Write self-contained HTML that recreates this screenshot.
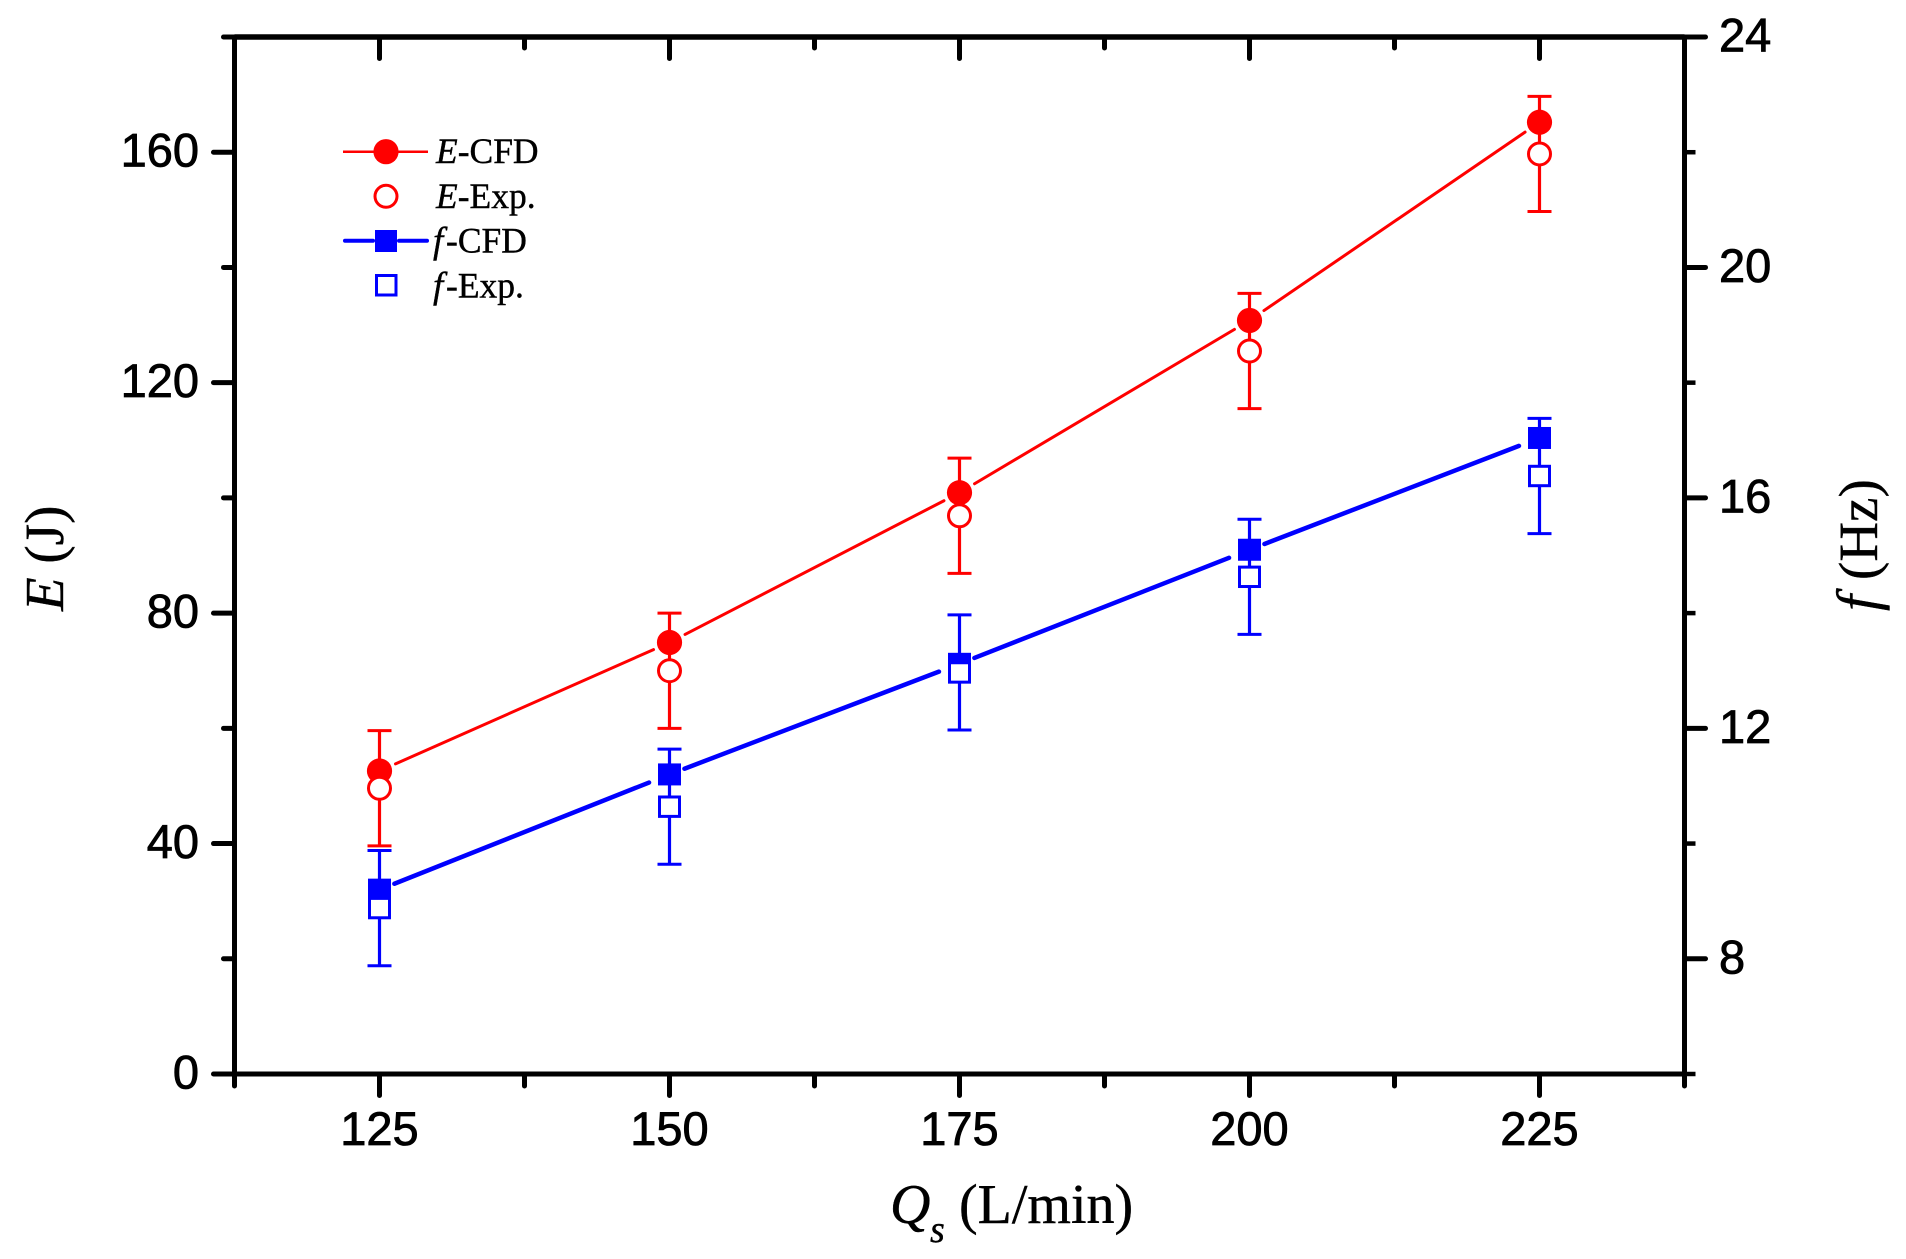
<!DOCTYPE html>
<html lang="en">
<head>
<meta charset="utf-8">
<title>E and f versus Qs</title>
<style>
html,body{margin:0;padding:0;background:#fff;width:1906px;height:1259px;overflow:hidden}
svg{display:block}
.serif{font-family:"Liberation Serif",serif;fill:#000;stroke:#000;stroke-width:.4px}
.tick{font-family:"Liberation Sans",sans-serif;font-size:47px;fill:#000;stroke:#000;stroke-width:.8px}
</style>
</head>
<body>
<svg id="chart" xmlns="http://www.w3.org/2000/svg" width="1906" height="1259" viewBox="0 0 1906 1259">
  <rect x="0" y="0" width="1906" height="1259" fill="#fff"/>
  <g id="axes"></g>
  <g id="series"></g>

  <text class="serif" font-size="56" y="1223"><tspan x="890" font-style="italic">Q</tspan><tspan x="930" y="1242" font-size="38" font-style="italic">s</tspan><tspan x="959" y="1223">(L/min)</tspan></text>
  <text class="serif" font-size="55" transform="translate(63 611) rotate(-90)"><tspan font-style="italic">E</tspan> (J)</text>
  <text class="serif" font-size="55" transform="translate(1877 0) rotate(-90)"><tspan x="-611" font-size="58" font-style="italic">f</tspan><tspan x="-580">(Hz)</tspan></text>

  <g>
    <line x1="343" y1="151.7" x2="428" y2="151.7" stroke="#f00" stroke-width="2.5"/>
    <circle cx="386" cy="151.7" r="12.6" fill="#f00"/>
    <text class="serif" font-size="35.5" x="436" y="163"><tspan font-style="italic">E</tspan>-CFD</text>
    <circle cx="386" cy="196.3" r="11" fill="#fff" stroke="#f00" stroke-width="3"/>
    <text class="serif" font-size="35.5" x="436" y="208"><tspan font-style="italic">E</tspan>-Exp.</text>
    <line x1="345" y1="240.7" x2="373" y2="240.7" stroke="#00f" stroke-width="4" stroke-linecap="round"/>
    <line x1="399" y1="240.7" x2="427" y2="240.7" stroke="#00f" stroke-width="4" stroke-linecap="round"/>
    <rect x="375" y="230" width="22" height="22" fill="#00f"/>
    <text class="serif" font-size="35.5" y="252.7"><tspan x="433" font-size="37" font-style="italic">f</tspan><tspan x="446">-CFD</tspan></text>
    <rect x="376.5" y="275.5" width="19.5" height="19.5" fill="#fff" stroke="#00f" stroke-width="3"/>
    <text class="serif" font-size="35.5" y="297.7"><tspan x="433" font-size="37" font-style="italic">f</tspan><tspan x="446">-Exp.</tspan></text>
  </g>
</svg>
<script>
const flowRates = [125, 150, 175, 200, 225];
const energyCfd = [52.6, 74.9, 100.9, 130.8, 165.2];
const energyExp = [49.6, 70, 96.9, 125.5, 159.7];
const energyExpError = [10, 10, 10, 10, 10];
const freqCfd = [9.2, 11.2, 13.12, 15.1, 17.04];
const freqExp = [8.88, 10.64, 12.97, 14.63, 16.38];
const freqExpError = [1, 1, 1, 1, 1];

const xMajorTicks = [125, 150, 175, 200, 225];
const xMinorTicks = [112.5, 137.5, 162.5, 187.5, 212.5, 237.5];
const leftMajorTicks = [0, 40, 80, 120, 160];
const leftMinorTicks = [20, 60, 100, 140, 180];
const rightMajorTicks = [8, 12, 16, 20, 24];
const rightMinorTicks = [6, 10, 14, 18, 22];

const plotLeft = 234.5, plotRight = 1684.5, plotTop = 37, plotBottom = 1074;
const xMin = 112.5, xMax = 237.5, eMin = 0, eMax = 180, fMin = 6, fMax = 24;
function xScale(v) { return plotLeft + (v - xMin) / (xMax - xMin) * (plotRight - plotLeft); }
function eScale(v) { return plotBottom - (v - eMin) / (eMax - eMin) * (plotBottom - plotTop); }
function fScale(v) { return plotBottom - (v - fMin) / (fMax - fMin) * (plotBottom - plotTop); }

const SVGNS = 'http://www.w3.org/2000/svg';
const axesGroup = document.getElementById('axes');
const seriesGroup = document.getElementById('series');

function shape(tag, props, parent) {
  const el = document.createElementNS(SVGNS, tag);
  for (const k in props) { el.setAttribute(k, props[k]); }
  parent.appendChild(el);
  return el;
}
function axisLine(name, x1, y1, x2, y2, w, cap) {
  const el = shape('line', { x1: x1, y1: y1, x2: x2, y2: y2, stroke: '#000', 'stroke-width': w, 'stroke-linecap': cap || 'butt' }, axesGroup);
  
  
}
function tickLabel(name, str, x, y, anchor) {
  const el = shape('text', { x: x, y: y, 'text-anchor': anchor, class: 'tick' }, axesGroup);
  el.textContent = str;
  
  
}

axisLine('axis-left', plotLeft, plotTop, plotLeft, plotBottom, 5);
axisLine('axis-right', plotRight, plotTop, plotRight, plotBottom, 5);
axisLine('axis-top', plotLeft, plotTop, plotRight, plotTop, 5.5);
axisLine('axis-bottom', plotLeft, plotBottom, plotRight, plotBottom, 5);

xMajorTicks.forEach(function (v) {
  const x = xScale(v);
  axisLine('x-major-tick-' + v, x, plotBottom, x, plotBottom + 21.5, 5, 'round');
  axisLine('top-major-tick-' + v, x, plotTop, x, plotTop + 21.5, 5, 'round');
  tickLabel('x-tick-label-' + v, String(v), x, 1145, 'middle');
});
xMinorTicks.forEach(function (v) {
  const x = xScale(v);
  axisLine('x-minor-tick-' + v, x, plotBottom, x, plotBottom + 12, 5, 'round');
  if (v > xMin && v < xMax) {
    axisLine('top-minor-tick-' + v, x, plotTop, x, plotTop + 11, 5, 'round');
  }
});
leftMajorTicks.forEach(function (v) {
  const y = eScale(v);
  axisLine('left-major-tick-' + v, plotLeft, y, plotLeft - 21, y, 5, 'round');
  tickLabel('left-tick-label-' + v, String(v), 199, y + 14.5, 'end');
});
leftMinorTicks.forEach(function (v) {
  const y = eScale(v);
  axisLine('left-minor-tick-' + v, plotLeft, y, plotLeft - 11, y, 5, 'round');
});
rightMajorTicks.forEach(function (v) {
  const y = fScale(v);
  axisLine('right-major-tick-' + v, plotRight, y, plotRight + 21, y, 5, 'round');
  tickLabel('right-tick-label-' + v, String(v), 1719, y + 14.5, 'start');
});
rightMinorTicks.forEach(function (v) {
  const y = fScale(v);
  axisLine('right-minor-tick-' + v, plotRight, y, plotRight + 11, y, 4.5, 'butt');
});

function drawLineSegments(prefix, values, scale, color, width, gapStart, gapEnd) {
  for (let i = 0; i < values.length - 1; i++) {
    const x1 = xScale(flowRates[i]), y1 = scale(values[i]);
    const x2 = xScale(flowRates[i + 1]), y2 = scale(values[i + 1]);
    const len = Math.hypot(x2 - x1, y2 - y1);
    const ux = (x2 - x1) / len, uy = (y2 - y1) / len;
    const seg = shape('line', {
      x1: x1 + ux * gapStart, y1: y1 + uy * gapStart,
      x2: x2 - ux * gapEnd, y2: y2 - uy * gapEnd,
      stroke: color, 'stroke-width': width, 'stroke-linecap': 'round'
    }, seriesGroup);
    
    
  }
}
function drawErrorBars(prefix, values, errors, scale, color) {
  values.forEach(function (v, i) {
    const x = xScale(flowRates[i]);
    const top = scale(v + errors[i]), bottom = scale(v - errors[i]);
    const stem = shape('line', { x1: x, y1: top, x2: x, y2: bottom, stroke: color, 'stroke-width': 3.2 }, seriesGroup);
    
    
    const capTop = shape('line', { x1: x - 12, y1: top, x2: x + 12, y2: top, stroke: color, 'stroke-width': 3 }, seriesGroup);
    
    
    const capBottom = shape('line', { x1: x - 12, y1: bottom, x2: x + 12, y2: bottom, stroke: color, 'stroke-width': 3 }, seriesGroup);
    
    
  });
}

drawLineSegments('e-cfd', energyCfd, eScale, '#f00', 3, 17.5, 17.5);
drawLineSegments('f-cfd', freqCfd, fScale, '#00f', 4.5, 16, 22);
drawErrorBars('e-exp', energyExp, energyExpError, eScale, '#f00');
drawErrorBars('f-exp', freqExp, freqExpError, fScale, '#00f');

energyCfd.forEach(function (v, i) {
  const c = shape('circle', { cx: xScale(flowRates[i]), cy: eScale(v), r: 12.6, fill: '#f00' }, seriesGroup);
  
  
});
freqCfd.forEach(function (v, i) {
  const r = shape('rect', { x: xScale(flowRates[i]) - 11.5, y: fScale(v) - 11, width: 23, height: 22, fill: '#00f' }, seriesGroup);
  
  
});
energyExp.forEach(function (v, i) {
  const c = shape('circle', { cx: xScale(flowRates[i]), cy: eScale(v), r: 11, fill: '#fff', stroke: '#f00', 'stroke-width': 3 }, seriesGroup);
  
  
});
freqExp.forEach(function (v, i) {
  const r = shape('rect', { x: xScale(flowRates[i]) - 10, y: fScale(v) - 9.7, width: 20, height: 19.4, fill: '#fff', stroke: '#00f', 'stroke-width': 3 }, seriesGroup);
  
  
});
</script>
</body>
</html>
